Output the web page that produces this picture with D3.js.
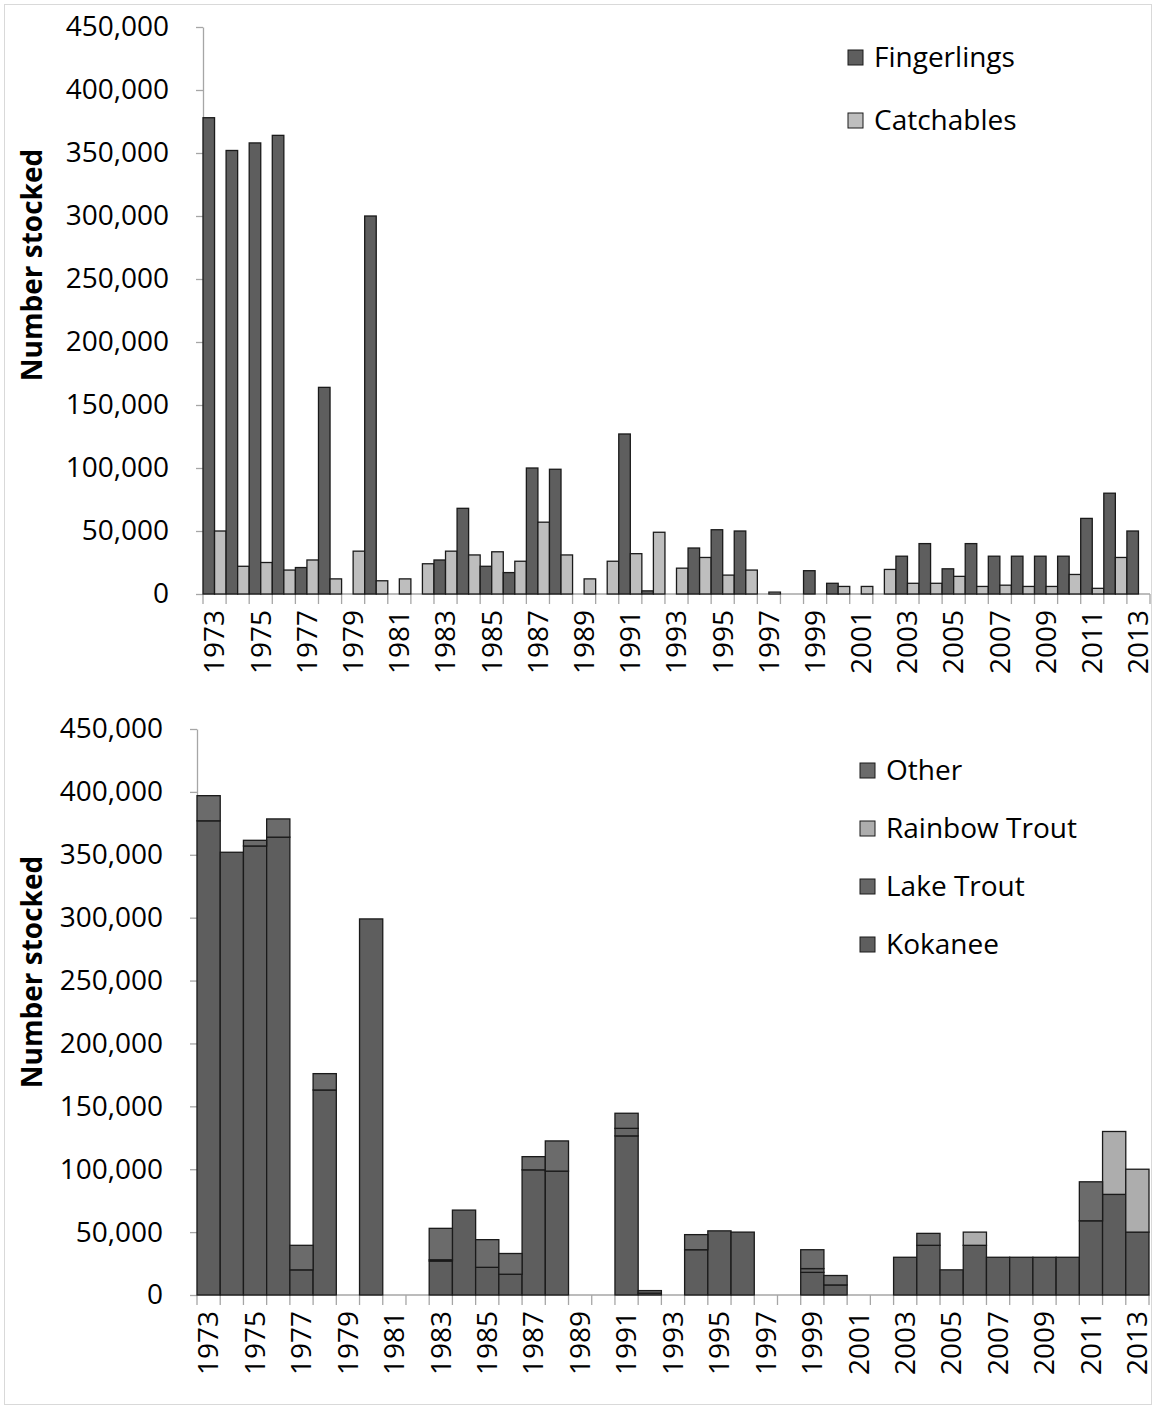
<!DOCTYPE html>
<meta charset="utf-8">
<style>
  body { margin: 0; background: #fff; }
  svg { display: block; font-family: "Open Sans", sans-serif; }
  .axis path, .axis line { stroke: #a6a6a6; stroke-width: 1.3px; }
  .axis text { fill: #000; font-size: 28px; font-family: "Open Sans", sans-serif; }
  .bar { stroke: #1a1a1a; stroke-width: 1.3px; }
</style>
<body>
<svg width="1156" height="1409"></svg>
<script src="https://d3js.org/d3.v7.min.js"></script>
<script>
// years on the x axis
var years = [1973, 1974, 1975, 1976, 1977, 1978, 1979, 1980, 1981, 1982,
  1983, 1984, 1985, 1986, 1987, 1988, 1989, 1990, 1991, 1992,
  1993, 1994, 1995, 1996, 1997, 1998, 1999, 2000, 2001, 2002,
  2003, 2004, 2005, 2006, 2007, 2008, 2009, 2010, 2011, 2012, 2013];

// top chart: by size at stocking
var fingerlings = [378000, 352000, 358000, 364000, 21000, 164000, 0, 300000, 0, 0,
  27000, 68000, 22000, 17000, 100000, 99000, 0, 0, 127000, 2500,
  0, 36500, 51000, 50000, 0, 0, 18500, 8500, 0, 0,
  30000, 40000, 20000, 40000, 30000, 30000, 30000, 30000, 60000, 80000, 50000];
var catchables = [50000, 22000, 25000, 19000, 27000, 12000, 34000, 10500, 12000, 24000,
  34000, 31000, 33500, 26000, 57000, 31000, 12000, 26000, 32000, 49000,
  20500, 29000, 15000, 19000, 1500, 0, 0, 6000, 6000, 19500,
  8500, 8500, 14000, 6000, 7000, 6000, 6000, 15500, 4500, 29000, 0];

// bottom chart: by species
var kokanee = [377000, 352000, 357000, 364000, 20000, 163000, 0, 299000, 0, 0,
  27000, 67500, 22000, 16500, 99500, 98500, 0, 0, 126500, 1500,
  0, 36000, 51000, 50000, 0, 0, 18000, 8000, 0, 0,
  30000, 39500, 20000, 39500, 30000, 30000, 30000, 30000, 59000, 80000, 50000];
var lakeTrout = [0, 0, 0, 0, 0, 0, 0, 0, 0, 0,
  1000, 0, 0, 0, 0, 0, 0, 0, 6000, 0,
  0, 0, 0, 0, 0, 0, 3000, 0, 0, 0,
  0, 0, 0, 0, 0, 0, 0, 0, 0, 0, 0];
var rainbowTrout = [0, 0, 0, 0, 0, 0, 0, 0, 0, 0,
  0, 0, 0, 0, 0, 0, 0, 0, 0, 0,
  0, 0, 0, 0, 0, 0, 0, 0, 0, 0,
  0, 0, 0, 10500, 0, 0, 0, 0, 0, 50000, 50000];
var other = [20000, 0, 4500, 14500, 19500, 13000, 0, 0, 0, 0,
  25000, 0, 22000, 16500, 10500, 24000, 0, 0, 12000, 2000,
  0, 12000, 0, 0, 0, 0, 15000, 7500, 0, 0,
  0, 9500, 0, 0, 0, 0, 0, 0, 31000, 0, 0];

var yTicks = [0, 50000, 100000, 150000, 200000, 250000, 300000, 350000, 400000, 450000];
var yearLabels = years.filter(function(d, i) { return i % 2 == 0; });

var svg = d3.select("svg");
var fmt = d3.format(",");

svg.append("rect")
  .attr("x", 4.5).attr("y", 4.5)
  .attr("width", 1147).attr("height", 1400)
  .attr("fill", "none").attr("stroke", "#d9d9d9");

function drawAxes(g, x, y, top, bottom, left, right, titleY) {
  // y axis
  g.append("g")
    .attr("class", "axis")
    .attr("transform", "translate(" + left + ",0)")
    .call(d3.axisLeft(y).tickValues(yTicks).tickFormat(fmt).tickSize(7).tickSizeOuter(0).tickPadding(27));

  // x axis: ticks at category boundaries, labels every other year
  var xa = g.append("g").attr("class", "axis");
  xa.append("line")
    .attr("x1", left).attr("x2", right)
    .attr("y1", bottom).attr("y2", bottom);
  xa.selectAll(".tk")
    .data(years.concat([2014]))
    .enter().append("line")
    .attr("x1", function(d) { return left + (x.step() * (d - 1973)); })
    .attr("x2", function(d) { return left + (x.step() * (d - 1973)); })
    .attr("y1", bottom).attr("y2", bottom + 10);
  xa.selectAll(".lb")
    .data(yearLabels)
    .enter().append("text")
    .attr("transform", function(d) {
      return "translate(" + (x(d) + x.bandwidth() / 2) + "," + (bottom + 16) + ") rotate(-90)";
    })
    .attr("dy", "0.35em")
    .attr("text-anchor", "end")
    .text(function(d) { return d; });

  g.append("text")
    .attr("transform", "translate(32," + titleY + ") rotate(-90)")
    .attr("dy", "0.35em")
    .attr("text-anchor", "middle")
    .attr("font-size", "28px")
    .attr("font-weight", "bold")
    .text("Number stocked");
}

function legend(g, items, x0, y0, gap) {
  var row = g.selectAll(".lg")
    .data(items)
    .enter().append("g")
    .attr("transform", function(d, i) { return "translate(" + x0 + "," + (y0 + i * gap) + ")"; });
  row.append("rect")
    .attr("x", 0).attr("y", -7).attr("width", 15).attr("height", 15)
    .attr("fill", function(d) { return d.color; })
    .attr("stroke", "#1a1a1a").attr("stroke-width", 1);
  row.append("text")
    .attr("x", 26).attr("dy", "0.35em")
    .attr("font-size", "28px")
    .text(function(d) { return d.name; });
}

// ---- top chart ----
(function() {
  var left = 203, right = 1150, top = 27, bottom = 594;
  var x = d3.scaleBand().domain(years).range([left, right]).padding(0);
  var sub = d3.scaleBand().domain(["f", "c"]).range([0, x.bandwidth()]).padding(0);
  var y = d3.scaleLinear().domain([0, 450000]).range([bottom, top]);
  var g = svg.append("g");
  var colors = { f: "#5e5e5e", c: "#bebebe" };

  var rows = [];
  years.forEach(function(yr, i) {
    rows.push({ year: yr, key: "f", v: fingerlings[i] });
    rows.push({ year: yr, key: "c", v: catchables[i] });
  });

  drawAxes(g, x, y, top, bottom, left, right, 265);

  g.append("g").selectAll("rect")
    .data(rows.filter(function(d) { return d.v > 0; }))
    .enter().append("rect")
    .attr("class", "bar")
    .attr("x", function(d) { return x(d.year) + sub(d.key); })
    .attr("width", sub.bandwidth())
    .attr("y", function(d) { return y(d.v); })
    .attr("height", function(d) { return y(0) - y(d.v); })
    .attr("fill", function(d) { return colors[d.key]; });

  legend(g, [
    { name: "Fingerlings", color: colors.f },
    { name: "Catchables", color: colors.c }
  ], 848, 57, 63);
})();

// ---- bottom chart ----
(function() {
  var left = 197, right = 1149, top = 729, bottom = 1295;
  var x = d3.scaleBand().domain(years).range([left, right]).padding(0);
  var y = d3.scaleLinear().domain([0, 450000]).range([bottom, top]);
  var g = svg.append("g");
  var keys = ["kokanee", "lakeTrout", "rainbowTrout", "other"];
  var colors = { kokanee: "#5e5e5e", lakeTrout: "#666666", rainbowTrout: "#adadad", other: "#6b6b6b" };

  var table = years.map(function(yr, i) {
    return { year: yr, kokanee: kokanee[i], lakeTrout: lakeTrout[i], rainbowTrout: rainbowTrout[i], other: other[i] };
  });
  var series = d3.stack().keys(keys)(table);

  drawAxes(g, x, y, top, bottom, left, right, 972);

  g.append("g").selectAll("g")
    .data(series)
    .enter().append("g")
    .attr("fill", function(d) { return colors[d.key]; })
    .selectAll("rect")
    .data(function(d) { return d.filter(function(s) { return s[1] - s[0] > 0; }); })
    .enter().append("rect")
    .attr("class", "bar")
    .attr("x", function(d) { return x(d.data.year); })
    .attr("width", x.bandwidth())
    .attr("y", function(d) { return y(d[1]); })
    .attr("height", function(d) { return y(d[0]) - y(d[1]); });

  legend(g, [
    { name: "Other", color: colors.other },
    { name: "Rainbow Trout", color: colors.rainbowTrout },
    { name: "Lake Trout", color: colors.lakeTrout },
    { name: "Kokanee", color: colors.kokanee }
  ], 860, 770, 58);
})();
</script>
</body>
